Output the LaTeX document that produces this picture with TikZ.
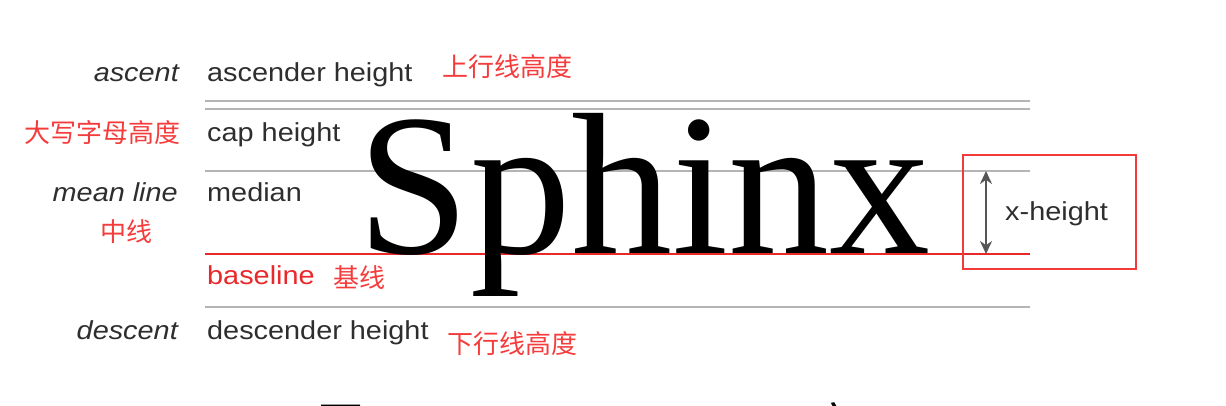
\documentclass[tikz,border=0pt]{standalone}
\usepackage{fontspec}
\setmainfont{Liberation Sans}
\newfontfamily\labfont[FakeStretch=1.11]{Liberation Sans}
\newfontfamily\cjkfont{Noto Sans CJK SC}
\newfontfamily\glyphfont[FakeStretch=1.0]{Liberation Serif}
\usetikzlibrary{arrows.meta}
\definecolor{labgray}{HTML}{2E2E2E}
\definecolor{rulegray}{HTML}{B4B4B4}
\definecolor{basered}{HTML}{E8282B}
\definecolor{cjkred}{HTML}{F53C3C}
\definecolor{boxred}{HTML}{F23A3A}
\definecolor{arrowgray}{HTML}{555555}
\begin{document}
\begin{tikzpicture}[x=1pt,y=-1pt,
  lab/.style={font=\labfont\fontsize{26}{26}\selectfont, text=labgray, inner sep=0pt, anchor=base west},
  itlab/.style={font=\labfont\itshape\fontsize{26}{26}\selectfont, text=labgray, inner sep=0pt, anchor=base east},
  cjk/.style={font=\cjkfont\fontsize{26}{26}\selectfont, text=cjkred, inner sep=0pt, anchor=base west},
  rule/.style={draw=rulegray, line width=1.8pt},
  redrule/.style={draw=basered, line width=2pt},
  xarrow/.style={draw=arrowgray, line width=1.8pt, {Stealth[length=13pt,width=12pt]}-{Stealth[length=13pt,width=12pt]}},
  redbox/.style={draw=boxred, line width=2.5pt, minimum width=173pt, minimum height=114pt, inner sep=0pt}
]
\useasboundingbox (0,0) rectangle (1226,406);

% guide lines
\coordinate (ascL) at (205,101);  \coordinate (ascR) at (1030,101);
\coordinate (capL) at (205,109);  \coordinate (capR) at (1030,109);
\coordinate (meanL) at (205,171); \coordinate (meanR) at (1030,171);
\coordinate (baseL) at (205,254); \coordinate (baseR) at (1030,254);
\coordinate (descL) at (205,307); \coordinate (descR) at (1030,307);
\draw[rule] (ascL) -- (ascR);
\draw[rule] (capL) -- (capR);
\draw[rule] (meanL) -- (meanR);
\draw[rule] (descL) -- (descR);
\draw[redrule] (baseL) -- (baseR);

% big word
\node[font=\glyphfont\fontsize{202}{202}\selectfont, inner sep=0pt, anchor=base] (word) at (644,254) {Sphinx};

% left italic labels
\node[itlab] (ascent) at (179,82) {ascent};
\node[itlab] (meanline) at (178,202) {mean line};
\node[itlab] (descent) at (178,339) {descent};

% right labels
\node[lab] (ascender) at (207,82) {ascender height};
\node[lab] (capheight) at (207,142) {cap height};
\node[lab] (median) at (207,202) {median};
\node[lab, text=basered] (baseline) at (207,284) {baseline};
\node[lab] (descender) at (207,339) {descender height};

% chinese annotations
\node[cjk] (cjkasc) at (442,77) {上行线高度};
\node[cjk] (cjkcap) at (24,143) {大写字母高度};
\node[cjk] (cjkmean) at (100,241) {中线};
\node[cjk] (cjkbase) at (333,287) {基线};
\node[cjk] (cjkdesc) at (447,353) {下行线高度};

% x-height marker
\node[redbox] (xbox) at (1049.5,212) {};
\coordinate (xtop) at (986,171);
\coordinate (xbot) at (986,254);
\draw[xarrow] (xtop) -- (xbot);
\node[lab] (xheight) at (1005,221) {x-height};

% clipped caption at the bottom edge
\begin{scope}
\clip (0,0) rectangle (1226,406);
\node[font=\cjkfont\fontsize{47}{47}\selectfont, inner sep=0pt, anchor=base west] (capfig) at (317,442) {图};
\node[font=\cjkfont\fontsize{47}{47}\selectfont, inner sep=0pt, anchor=base west] (capsch) at (763,442) {示意};
\end{scope}
\end{tikzpicture}
\end{document}
